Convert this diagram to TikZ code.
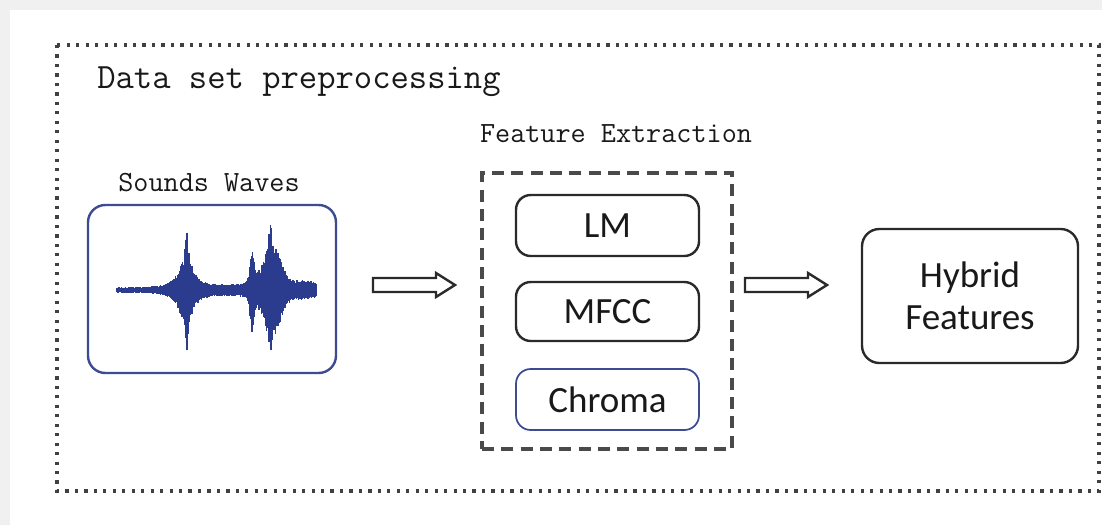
\documentclass[tikz,border=0pt]{standalone}
\usepackage{fontspec}
\newfontfamily\calfont{Carlito}
\usetikzlibrary{calc}
\definecolor{bggray}{HTML}{F0F0F0}
\definecolor{waveblue}{HTML}{2B3C8F}
\definecolor{boxblue}{HTML}{3D4B92}
\definecolor{linegray}{HTML}{2A2A2A}
\definecolor{dotgray}{HTML}{404040}
\definecolor{dashgray}{HTML}{4A4A4A}
\tikzset{
  outerbox/.style={draw=dotgray, line width=2.6pt, dash pattern=on 2.4pt off 4.7pt},
  titletext/.style={font=\ttfamily\fontsize{26.7}{30}\selectfont, inner sep=0pt, text=black!90},
  labeltext/.style={font=\ttfamily\fontsize{22}{26}\selectfont, inner sep=0pt, text=black!90},
  soundbox/.style={draw=boxblue, line width=1.8pt, rounded corners=13pt, minimum width=186pt, minimum height=126pt},
  featbox/.style={draw=linegray, line width=1.8pt, rounded corners=11pt, minimum width=137.25pt, minimum height=45.75pt,
     font=\calfont\fontsize{27.75}{31.5}\selectfont, text=black!90},
  chromabox/.style={featbox, draw=boxblue, line width=1.3pt},
  groupbox/.style={draw=dashgray, line width=2.6pt, dash pattern=on 9pt off 5.5pt, minimum width=187.5pt, minimum height=207pt},
  hybridbox/.style={draw=linegray, line width=1.8pt, rounded corners=13pt, minimum width=162pt, minimum height=100.5pt,
     align=center, font=\calfont\fontsize{27.75}{31.5}\selectfont, text=black!90},
  blockarrow/.style={draw=linegray, line width=1.8pt, fill=white, line join=miter},
  wave/.style={draw=waveblue, line width=1pt},
}
\newcommand\hollowarrow[2]{%
  \draw[blockarrow] ($(#1)+(0,-7)$) -- ($(#2)+(-19,-7)$) -- ($(#2)+(-19,-12)$) -- (#2)
     -- ($(#2)+(-19,12)$) -- ($(#2)+(-19,7)$) -- ($(#1)+(0,7)$) -- cycle;}
\begin{document}
\begin{tikzpicture}[x=0.75pt,y=-0.75pt]
\useasboundingbox (0,0) rectangle (1102,525);
\fill[bggray] (0,0) rectangle (1102,525);
\fill[white] (10,10) rectangle (1102,525);
\draw[outerbox] (57,45) rectangle (1099,491);
\node[titletext, anchor=base west] (title) at (97,88) {Data set preprocessing};

% sound waves
\node[soundbox] (sound) at (212,289) {};
\node[labeltext, anchor=base] (soundlbl) at (209,191) {Sounds Waves};
\pgfmathsetseed{12}
\foreach \x in {117,117.7,...,317}{
  \pgfmathsetmacro\e{2.4 + 3.8*exp(-min(((\x-210)/55)^2,30))
     + 9*exp(-min(((\x-186)/16)^2,30))
     + 18*exp(-min(((\x-186)/8)^2,30)) + 28*exp(-min(((\x-187)/2.2)^2,30))
     + 18*exp(-min(((\x-268)/18)^2,30)) + 24*exp(-min(((\x-274)/10)^2,30))
     + 30*exp(-min(((\x-252)/2.5)^2,30)) + 26*exp(-min(((\x-270)/3)^2,30))
     + 7*exp(-min(((\x-305)/18)^2,30))}
  \pgfmathsetmacro\a{\e*(0.72+0.28*rnd)}
  \pgfmathsetmacro\b{\e*(0.72+0.28*rnd)}
  \draw[wave] (\x,{290-\a}) -- (\x,{290+\b});
}

% feature extraction
\node[groupbox] (fx) at (607,311) {};
\node[labeltext, anchor=base] (fxlbl) at (616,142) {Feature Extraction};
\node[featbox] (lm) at (607.5,225.5) {LM};
\node[featbox, minimum height=44.25pt] (mfcc) at (607.5,311.5) {MFCC};
\node[chromabox] (chroma) at (607.5,399.5) {Chroma};

% hybrid
\node[hybridbox] (hyb) at (970,296) {Hybrid\\Features};

% arrows
\coordinate (a1t) at (373,285);
\coordinate (a1h) at (455,285);
\coordinate (a2t) at (745,285);
\coordinate (a2h) at (827,285);
\hollowarrow{a1t}{a1h}
\hollowarrow{a2t}{a2h}
\end{tikzpicture}
\end{document}
